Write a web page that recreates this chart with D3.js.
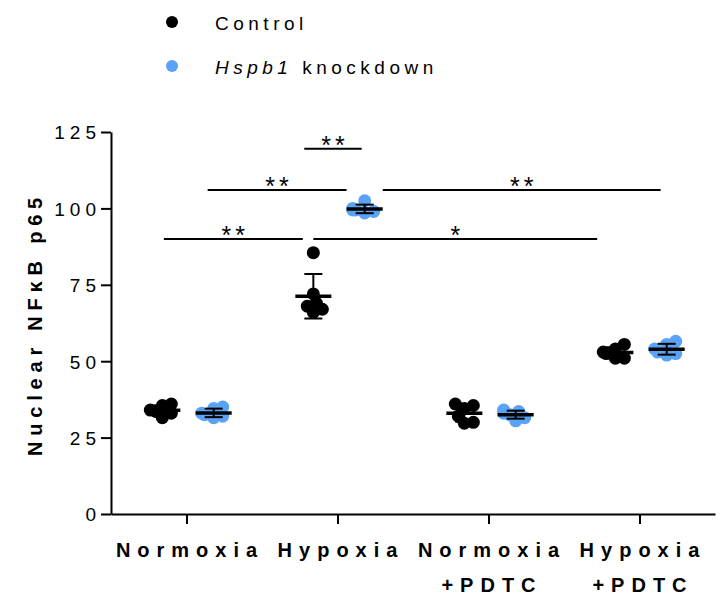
<!DOCTYPE html>
<html>
<head>
<meta charset="utf-8">
<script src="https://cdn.jsdelivr.net/npm/d3@7"></script>
<style>
  body { margin: 0; background: #fff; }
  svg text { font-family: Arial, "Liberation Sans", sans-serif; fill: #000; }
</style>
</head>
<body>
<div id="chart"></div>
<script>
// groups along the x axis (two text lines each)
var groups = [["Normoxia"], ["Hypoxia"], ["Normoxia", "+PDTC"], ["Hypoxia", "+PDTC"]];
var seriesNames = ["Control", "Hspb1 knockdown"];
var seriesColors = ["#000000", "#5aa2f5"];

// individual values per group
var controlValues = [
    [35.5, 36, 33.5, 34, 31.5, 33],
    [85.5, 72, 69, 67, 66, 68],
    [36, 34.5, 35.5, 29.7, 30, 32],
    [54, 55.5, 51, 51, 52.5, 53]
];
var knockdownValues = [
    [34.5, 35, 32, 31.5, 33, 32.5],
    [102.5, 99.5, 99, 100, 98.5, 99.5],
    [33.5, 34, 32.5, 31.5, 30.5, 33],
    [56.5, 55.5, 53, 52, 54, 52.5]
];

var yTicks = [0, 25, 50, 75, 100, 125];

// significance brackets: [x start, x end] in group units, height, label
var brackets = [
    [0.78, 1.16, 119.5, "**"],
    [0.14, 1.06, 106, "**"],
    [1.30, 3.14, 106, "**"],
    [-0.15, 0.77, 90, "**"],
    [0.84, 2.72, 90, "*"]
];

//****** SETUP ******//
var width = 724, height = 601;

var svg = d3.select("#chart")
    .append("svg")
    .attr("width", width)
    .attr("height", height);

var x = d3.scaleLinear()
    .domain([-0.5, 3.5])
    .range([111, 715]);

var y = d3.scaleLinear()
    .domain([0, 125])
    .range([514, 132]);

var seriesOffset = [-0.16, 0.18];
var dotR = 6.5;

// Y axis
var yAxis = svg.append("g")
    .attr("transform", "translate(" + x(-0.5) + ",0)")
    .call(d3.axisLeft(y).tickValues(yTicks).tickSize(10).tickSizeOuter(0));
yAxis.select(".domain").attr("stroke-width", 2);
yAxis.selectAll(".tick line").attr("stroke-width", 2);
yAxis.selectAll(".tick text")
    .attr("x", -10)
    .attr("dy", "0.36em")
    .style("font-size", "19px")
    .style("letter-spacing", "5px")
    .attr("font-family", null);

// X axis
var xAxis = svg.append("g")
    .attr("transform", "translate(0," + y(0) + ")")
    .call(d3.axisBottom(x).tickValues([0, 1, 2, 3]).tickSize(10).tickSizeOuter(0).tickFormat(""));
xAxis.select(".domain").attr("stroke-width", 2);
xAxis.selectAll(".tick line").attr("stroke-width", 2);

// x labels
groups.forEach(function(g, i) {
    g.forEach(function(line, j) {
        svg.append("text")
            .attr("x", x(i) + 3.5)
            .attr("y", 557 + j * 35)
            .attr("text-anchor", "middle")
            .style("font-size", "20px")
            .style("font-weight", "bold")
            .style("letter-spacing", "7px")
            .text(line);
    });
});

// y title
svg.append("text")
    .attr("transform", "translate(42," + (y(62.5) + 1) + ") rotate(-90)")
    .attr("text-anchor", "middle")
    .style("font-size", "20px")
    .style("font-weight", "bold")
    .style("letter-spacing", "5.8px")
    .text("Nuclear NF\u03BAB p65");

// simple beeswarm: spread dots sideways, overlapping a fair bit like the prism export
function swarm(values, cx) {
    var placed = [];
    var minDist = 8.5;
    values.slice().sort(function(a, b) { return a - b; }).forEach(function(v) {
        var py = y(v);
        var steps = [0, 1, -1, 2, -2, 3, -3, 4, -4];
        for (var k = 0; k < steps.length; k++) {
            var px = cx + steps[k] * 3;
            var ok = placed.every(function(p) {
                return Math.hypot(p.x - px, p.y - py) >= minDist;
            });
            if (ok || k == steps.length - 1) {
                placed.push({ x: px, y: py });
                break;
            }
        }
    });
    return placed;
}

// dots, mean and SD
[controlValues, knockdownValues].forEach(function(series, s) {
    series.forEach(function(vals, gi) {
        var cx = x(gi + seriesOffset[s]);
        var pts = swarm(vals, cx);

        svg.append("g").selectAll("circle")
            .data(pts)
            .enter()
            .append("circle")
            .attr("cx", d => d.x)
            .attr("cy", d => d.y)
            .attr("r", dotR)
            .style("fill", seriesColors[s]);

        var m = d3.mean(vals), sd = d3.deviation(vals);

        // error bar
        svg.append("line")
            .attr("x1", cx).attr("x2", cx)
            .attr("y1", y(m + sd)).attr("y2", y(m - sd))
            .style("stroke", "#000").style("stroke-width", 2);
        [m + sd, m - sd].forEach(function(v) {
            svg.append("line")
                .attr("x1", cx - 9).attr("x2", cx + 9)
                .attr("y1", y(v)).attr("y2", y(v))
                .style("stroke", "#000").style("stroke-width", 2);
        });
        // mean line
        svg.append("line")
            .attr("x1", cx - 18).attr("x2", cx + 18)
            .attr("y1", y(m)).attr("y2", y(m))
            .style("stroke", "#000").style("stroke-width", 3.5);
    });
});

// significance brackets
brackets.forEach(function(b) {
    svg.append("line")
        .attr("x1", x(b[0])).attr("x2", x(b[1]))
        .attr("y1", y(b[2])).attr("y2", y(b[2]))
        .style("stroke", "#000").style("stroke-width", 2);
    svg.append("text")
        .attr("x", (x(b[0]) + x(b[1])) / 2 + 2)
        .attr("y", y(b[2]) + 5)
        .attr("text-anchor", "middle")
        .style("font-size", "25px")
        .style("letter-spacing", "4px")
        .text(b[3]);
});

// legend
var legend = svg.append("g");
seriesNames.forEach(function(name, i) {
    var ly = 22 + i * 44;
    legend.append("circle")
        .attr("cx", 172)
        .attr("cy", ly)
        .attr("r", 6)
        .style("fill", seriesColors[i]);
    var t = legend.append("text")
        .attr("x", 215)
        .attr("y", ly + 8)
        .style("font-size", "19px")
        .style("letter-spacing", "4.5px");
    if (i == 1) {
        t.append("tspan").style("font-style", "italic").text("Hspb1");
        t.append("tspan").text(" knockdown");
    } else {
        t.text(name);
    }
});
</script>
</body>
</html>
